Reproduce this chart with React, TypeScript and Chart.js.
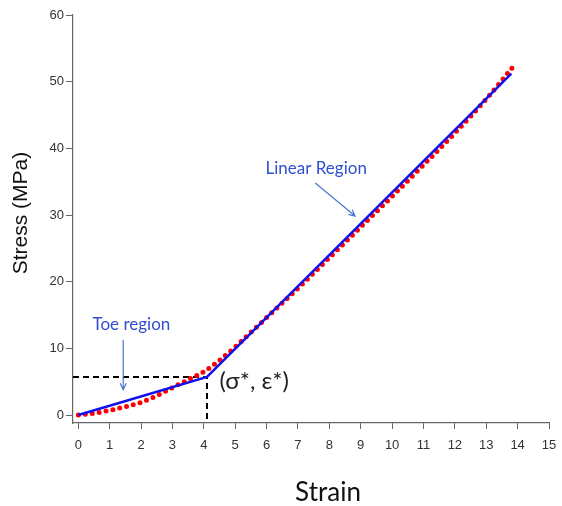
import React, { useEffect, useRef } from "react";
import { Chart, registerables } from "chart.js";

Chart.register(...registerables);

// Measured stress-strain data (red dotted)
const measuredStrain = [0, 0.5, 1, 1.5, 2, 2.5, 3, 3.5, 4, 4.5, 5, 5.5, 6, 7, 8, 9, 10, 11, 12, 13, 13.85];
const measuredStress = [0, 0.25, 0.7, 1.25, 1.9, 2.9, 4.1, 5.3, 6.5, 8.2, 10.2, 12.4, 14.6, 19.0, 23.6, 28.2, 32.8, 37.5, 42.3, 47.4, 52.2];

// Bilinear model (blue)
const modelStrain = [0, 4.1, 13.8];
const modelStress = [0, 5.7, 51.2];

// Transition point guides (σ*, ε*)
const guideStrain = [-0.17, 4.1, 4.1];
const guideStress = [5.7, 5.7, -1.2];

const xTicks = [0, 1, 2, 3, 4, 5, 6, 7, 8, 9, 10, 11, 12, 13, 14, 15];
const yTicks = [0, 10, 20, 30, 40, 50, 60];

const toXY = (xs: number[], ys: number[]) => xs.map((x, i) => ({ x, y: ys[i] }));

const annotationPlugin = {
  id: "annotations",
  afterDatasetsDraw(chart: any) {
    const { ctx, scales } = chart;
    const xs = scales.x;
    const ys = scales.y;
    const px = (v: number) => xs.getPixelForValue(v);
    const py = (v: number) => ys.getPixelForValue(v);

    const arrow = (x1: number, y1: number, x2: number, y2: number, color: string) => {
      const ax1 = px(x1), ay1 = py(y1), ax2 = px(x2), ay2 = py(y2);
      ctx.save();
      ctx.strokeStyle = color;
      ctx.lineWidth = 1.2;
      ctx.beginPath();
      ctx.moveTo(ax1, ay1);
      ctx.lineTo(ax2, ay2);
      const ang = Math.atan2(ay2 - ay1, ax2 - ax1);
      const h = 7;
      ctx.moveTo(ax2 - h * Math.cos(ang - 0.45), ay2 - h * Math.sin(ang - 0.45));
      ctx.lineTo(ax2, ay2);
      ctx.lineTo(ax2 - h * Math.cos(ang + 0.45), ay2 - h * Math.sin(ang + 0.45));
      ctx.stroke();
      ctx.restore();
    };

    ctx.save();
    ctx.textAlign = "center";
    ctx.textBaseline = "middle";
    ctx.fillStyle = "#2f4fd0";
    ctx.font = "17px Lato, 'Open Sans', sans-serif";
    ctx.fillText("Toe region", px(1.69), py(13.5));
    ctx.fillText("Linear Region", px(7.58), py(36.9));
    ctx.fillStyle = "#222";
    ctx.font = "24px Lato, 'Open Sans', sans-serif";
    ctx.textAlign = "left";
    ctx.fillText("(σ*, ε*)", px(4.5), py(5.0));

    // axis titles
    ctx.fillStyle = "#111";
    ctx.textAlign = "center";
    ctx.font = "26px Lato, 'Open Sans', sans-serif";
    ctx.fillText("Strain", 328, 493);
    ctx.font = "21px 'Liberation Sans', Arial, sans-serif";
    ctx.translate(21, 213);
    ctx.rotate(-Math.PI / 2);
    ctx.fillText("Stress (MPa)", 0, 0);
    ctx.restore();

    arrow(1.43, 11.25, 1.43, 3.8, "#4a74d0");
    arrow(7.55, 34.8, 8.82, 29.85, "#4a74d0");
  },
};

export default function App() {
  const ref = useRef<HTMLCanvasElement>(null);
  useEffect(() => {
    if (!ref.current) return;
    const chart = new Chart(ref.current, {
      type: "scatter",
      data: {
        datasets: [
          {
            label: "guides",
            data: toXY(guideStrain, guideStress),
            showLine: true,
            borderColor: "#000",
            borderWidth: 2,
            borderDash: [6, 4],
            pointRadius: 0,
            fill: false,
            order: 3,
          },
          {
            label: "model",
            data: toXY(modelStrain, modelStress),
            showLine: true,
            borderColor: "#1010ee",
            borderWidth: 2.5,
            pointRadius: 0,
            fill: false,
            order: 1,
          },
          {
            label: "measured",
            data: toXY(measuredStrain, measuredStress),
            showLine: true,
            borderColor: "#ff0000",
            borderWidth: 5,
            borderDash: [0, 7],
            borderCapStyle: "round",
            cubicInterpolationMode: "monotone",
            pointRadius: 0,
            fill: false,
            order: 2,
          },
        ],
      },
      options: {
        animation: false,
        responsive: false,
        maintainAspectRatio: false,
        layout: { padding: { top: 15, right: 13, left: 0, bottom: 0 } },
        plugins: { legend: { display: false }, tooltip: { enabled: false } },
        scales: {
          x: {
            type: "linear",
            min: -0.17,
            max: 15,
            afterBuildTicks: (s: any) => {
              s.ticks = xTicks.map((v) => ({ value: v }));
            },
            afterFit: (s: any) => {
              s.height = 83;
              s.paddingLeft = 0;
              s.paddingRight = 0;
            },
            grid: { drawOnChartArea: false, drawTicks: true, tickLength: 6, color: "#666" },
            border: { display: true, color: "#666", width: 1.2 },
            ticks: {
              color: "#333",
              font: { family: "'Liberation Sans', Arial, sans-serif", size: 13 },
              padding: 9,
              maxRotation: 0,
              autoSkip: false,
            },
          },
          y: {
            type: "linear",
            min: -1.2,
            max: 60,
            afterBuildTicks: (s: any) => {
              s.ticks = yTicks.map((v) => ({ value: v }));
            },
            afterFit: (s: any) => {
              s.width = 73;
              s.paddingTop = 0;
              s.paddingBottom = 0;
            },
            grid: { drawOnChartArea: false, drawTicks: true, tickLength: 7, color: "#666" },
            border: { display: true, color: "#666", width: 1.2 },
            ticks: {
              color: "#333",
              font: { family: "'Liberation Sans', Arial, sans-serif", size: 13 },
              padding: 2,
              autoSkip: false,
            },
          },
        },
      },
      plugins: [annotationPlugin],
    } as any);
    return () => chart.destroy();
  }, []);
  return (
    <div style={{ position: "absolute", left: 0, top: 0, width: 562, height: 506, background: "#fff" }}>
      <canvas ref={ref} width={562} height={506} style={{ width: 562, height: 506 }} />
    </div>
  );
}
